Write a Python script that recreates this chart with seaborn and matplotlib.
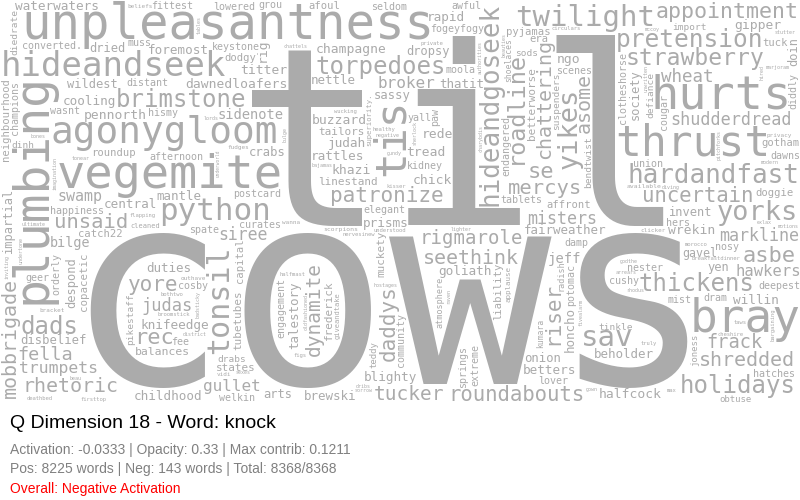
import numpy as np
import matplotlib
matplotlib.use("Agg")
import matplotlib.pyplot as plt
import seaborn as sns

# ---------------- data ----------------
words = [
    "cows", "til", "unpleasantness", "plumbing", "vegemite", "hurts", "bray", "thrust",
    "tis", "agonygloom", "hideandseek", "python", "tonsil", "twilight", "sav", "yorks",
    "yikes", "hideandgoseek", "hardandfast", "pretension", "torpedoes", "brimstone",
    "holidays", "dads", "thickens", "roadline", "strawberry", "se", "rec", "asbe",
    "appointment", "riser", "patronize", "daddys", "yore", "uncertain", "roundabouts",
    "unsaid", "mercys", "rhetoric", "seethink", "shredded", "asome", "chattering",
    "mobbrigade", "tucker", "dynamite", "rigmarole", "frack", "fella", "wheat", "judas",
    "shudderdread", "markline", "misters", "siree", "trumpets", "broker", "gullet",
    "hawkers", "swamp", "jeff", "sidenote", "bilge", "titter", "tread", "ngo", "buzzard",
    "rede", "pennorth", "chick", "gipper", "champagne", "halfcock", "dawnedloafers",
    "wrekin", "rig", "khazi", "knifeedge", "prisms", "waterwaters", "willin", "goliath",
    "judah", "rapid", "childhood", "rattles", "blighty", "central", "cooling", "betters",
    "foremost", "fairweather", "talestory", "brewski", "beholder", "nettle", "thatit",
    "mantle", "duties", "honcho", "disbelief", "crabs", "onion", "sassy", "dropsy",
    "invent", "dried", "yen", "arts", "wildest", "doin", "impartial", "society",
    "despond", "gavel", "balances", "tailors", "states", "linestand", "frederick",
    "betterworse", "muckety", "tubetubes", "copacetic", "neighbourhood", "catch22",
    "affront", "tuck", "pyjamas", "roundup", "doggie", "dodgy", "afoul", "era",
    "capital", "liability", "gotham", "union", "converted.", "postcard", "distant",
    "geer", "awful", "hatches", "welkin", "scenes", "fee", "clotheshorse", "deepest",
    "tablets", "paw", "grou", "dawns", "curates", "cougar", "happiness", "fogeyfogy",
    "kidney", "fittest", "extreme", "spate", "nester", "muss", "keystone", "seldom",
    "damp", "dram", "engagement", "endangered", "community", "moola", "lowered",
    "elegant", "mist", "wasnt", "hismy", "afternoon", "cosby", "yall", "cushy", "hers",
    "champions", "nosy", "orderly", "potomac", "springs", "diddly", "lover", "obtuse",
    "tinkle", "sods", "drabs", "dinh", "import", "defiance", "suspenders", "bendtwist",
    "diedrate", "pikestaff", "teddy", "joness", "superiority.", "atmosphere", "radish",
    "kumara", "giveandtake", "shoelaces", "applause", "cleaned", "available", "scorpions",
    "wanna", "vidi", "bracket", "beliefs", "outhave", "privacy", "fudges", "clicker",
    "firsttop", "circulars", "flapping", "wucking", "bargaining", "kisser", "truly",
    "figs", "private", "halfmast", "bothtwo", "taws", "deathbed", "breakfastdinner",
    "broomstick", "nervesinew", "healthy", "cheshire", "morocco", "understood", "max",
    "godthe", "negative", "lords", "bones", "beauties", "tables", "raven", "arrears",
    "marjoram", "tonear", "sexes", "fivealarm", "motions", "sorrow", "bulge",
    "badsticky", "beau", "exlax", "chattels", "charybdis", "diving", "pitchforks",
    "mccoy", "authorities", "gown", "gundy", "lighter", "bajamas", "hostages",
    "stutter", "sherlock", "ultimate", "rhodus", "imagination", "inviting",
    "oldfashioned", "undertone", "district", "dribs", "hired", "modern", "unwritten",
    "underworld",
]
weights = [
    270, 250, 49, 48, 47, 47, 46, 43,
    43, 42, 34, 31, 30, 29, 29, 27,
    27, 26, 26, 24.5, 24, 24,
    24, 24, 24, 23.5, 23, 22, 22, 22,
    21.6, 21, 21, 21, 21, 20.7, 20.6,
    20.5, 20.5, 20, 20, 20, 20, 20,
    20, 19.5, 19.5, 19, 18.6, 18.5, 17.5, 17,
    16.8, 16.6, 16.6, 16.5, 16.4, 16, 16,
    15.5, 15, 14, 13.8, 13.5, 13, 13, 13, 13,
    13, 13, 13, 13, 13, 13, 13,
    13, 13, 13, 12.8, 12.8, 12.8, 12.8, 12.7,
    12.7, 12.7, 12.6, 12.6, 12.6, 12.6, 12.6, 12.6,
    12.6, 12.5, 12.5, 12.5, 12.5, 12.5, 12.5,
    12.5, 12.5, 12.5, 12.3, 12.3, 12.3, 12.3, 12,
    12, 12, 12, 12, 12, 12, 12, 12,
    12, 11.6, 11.5, 11, 11, 11, 11,
    11, 11, 11, 10.8, 10.6, 10.5,
    10.5, 10.5, 10.5, 10.5, 10.5, 10.5, 10.5, 10.5,
    10.5, 10.5, 10.5, 10, 10, 10, 10,
    10, 10, 10, 10, 10, 10, 10, 10,
    10, 10, 10, 10, 10, 10, 10, 10, 10,
    10, 10, 10, 10, 10, 10, 10, 10,
    10, 10, 10, 10, 10, 10, 10,
    10, 10, 10, 10, 10, 10, 10, 10, 10,
    10, 10, 10, 10, 10, 10, 9, 9.5,
    9.5, 9.5, 9.5, 9.5, 9.5, 9.5, 9.5, 9.5,
    9.5, 9, 9, 9, 8.5, 8.5, 8,
    8, 8, 7.5, 7, 6.5, 6.5, 6,
    6, 6, 6, 6, 6, 6, 6, 5.5,
    5.5, 5.5, 5.5, 5.5, 5.5, 5.5, 5.5,
    5.5, 5.5, 5.5, 5.5, 5.5, 5.5, 5.5,
    5.5, 5.5, 5.5, 5.5, 5.5, 5.5, 5,
    5, 5, 5, 5, 5, 5, 5, 5,
    5, 5, 5, 5, 5, 5, 5,
    5, 5, 5, 5, 5, 5, 5,
    5, 5, 5, 5, 5, 5,
    5, 5, 5, 5, 5, 5,
    5, 5, 5, 5, 5, 5, 5,
    4.5,
]
vertical_words = [
    "plumbing", "tis", "tonsil", "yikes", "hideandgoseek", "roadline", "riser", "daddys",
    "asome", "chattering", "mobbrigade", "dynamite", "rigmarole", "rig", "talestory",
    "honcho", "doin", "impartial", "society", "despond", "frederick", "betterworse",
    "muckety", "tubetubes", "copacetic", "neighbourhood", "capital", "liability",
    "clotheshorse", "paw", "cougar", "extreme", "engagement", "orderly", "potomac",
    "springs", "diddly", "defiance", "suspenders", "bendtwist", "diedrate", "pikestaff",
    "teddy", "joness", "superiority.", "atmosphere", "radish", "kumara", "giveandtake",
    "shoelaces", "applause", "bargaining", "beauties", "tables", "raven", "fivealarm",
    "bulge", "badsticky", "charybdis", "pitchforks", "authorities", "sherlock",
    "imagination", "inviting", "oldfashioned", "undertone", "hired", "unwritten",
    "underworld",
]

title_text = "Q Dimension 18 - Word: knock"
activation = -0.0333
opacity = 0.33
max_contrib = 0.1211
pos_words = 8225
neg_words = 143
total_words = 8368
overall_label = "Negative Activation"

# ---------------- style ----------------
sns.set_theme(style="white")
plt.rcParams["font.family"] = ["DejaVu Sans Mono", "DejaVu Sans"]
WORD_COLOR = "#ababab"
FONT = "DejaVu Sans Mono"

W, H = 800, 500
CLOUD_H = 402
MARGIN = 1
SEED = 7

fig = plt.figure(figsize=(8, 5), dpi=100)
fig.patch.set_facecolor("white")
ax = fig.add_axes([0, 0, 1, 1])
ax.set_xlim(0, W)
ax.set_ylim(0, H)
ax.axis("off")
renderer = fig.canvas.get_renderer()

AX, AY = 400, 250
_cache = {}


def measure(word, px, vert):
    key = (word, round(px, 3), vert)
    if key in _cache:
        return _cache[key]
    t = ax.text(AX, AY, word, fontsize=px * 0.72, family=FONT,
                rotation=90 if vert else 0, ha="center", va="center", color="black")
    renderer.clear()
    t.draw(renderer)
    a = np.asarray(renderer.buffer_rgba())[..., 3]
    t.remove()
    ink = a > 30
    rows = np.flatnonzero(ink.any(1))
    cols = np.flatnonzero(ink.any(0))
    if len(rows) == 0:
        res = None
    else:
        r0, r1, c0, c1 = rows[0], rows[-1], cols[0], cols[-1]
        res = (ink[r0:r1 + 1, c0:c1 + 1].astype(np.uint8), r0, c0)
    _cache[key] = res
    return res


def integral(o):
    S = np.zeros((o.shape[0] + 1, o.shape[1] + 1), np.int32)
    S[1:, 1:] = np.cumsum(np.cumsum(o, 0, dtype=np.int32), 1, dtype=np.int32)
    return S


def free_map(S, hb, wb):
    hc, wc = S.shape[0] - 1, S.shape[1] - 1
    if hb > hc or wb > wc:
        return None
    return (S[hb:, wb:] - S[:-hb, wb:] - S[hb:, :-wb] + S[:-hb, :-wb]) == 0


order = sorted(range(len(words)), key=lambda k: -weights[k])
items = [(words[k], float(weights[k]), words[k] in vertical_words) for k in order]

occ = np.zeros((CLOUD_H, W), np.uint8)
rng = np.random.default_rng(SEED)
LOOK = 14
placed = []

for n, (word, px, vert) in enumerate(items):
    S = integral(occ)
    done = False
    while px >= 4 and not done:
        for v in (vert, not vert):
            res = measure(word, px, v)
            if res is None:
                continue
            m, r0, c0 = res
            h, w = m.shape
            fm = free_map(S, h + 2 * MARGIN, w + 2 * MARGIN)
            if fm is None or not fm.any():
                continue
            cand = np.flatnonzero(fm)
            fw = fm.shape[1]
            if n < LOOK and n + 1 < len(items):
                nw_, npx, nv = items[n + 1]
                nres = measure(nw_, npx, nv)
                tries = cand[rng.integers(len(cand), size=min(40, len(cand)))]
                pick = tries[0]
                if nres is not None:
                    nh, nwid = nres[0].shape
                    for c in tries:
                        i, j = divmod(int(c), fw)
                        occ2 = occ.copy()
                        occ2[i + MARGIN:i + MARGIN + h, j + MARGIN:j + MARGIN + w] |= m
                        f2 = free_map(integral(occ2), nh + 2 * MARGIN, nwid + 2 * MARGIN)
                        if f2 is not None and f2.any():
                            pick = c
                            break
            else:
                pick = cand[rng.integers(len(cand))]
            i, j = divmod(int(pick), fw)
            occ[i + MARGIN:i + MARGIN + h, j + MARGIN:j + MARGIN + w] |= m
            x_anchor = AX + (j + MARGIN - c0)
            y_anchor = AY - (i + MARGIN - r0)
            placed.append((word, px, v, x_anchor, y_anchor))
            done = True
            break
        if not done:
            px *= 0.9

for word, px, v, x, y in placed:
    ax.text(x, y, word, fontsize=px * 0.72, family=FONT, rotation=90 if v else 0,
            ha="center", va="center", color=WORD_COLOR)

# ---------------- captions ----------------
LBL = ["Liberation Sans", "DejaVu Sans"]
fig.text(10 / W, 1 - 428 / H, title_text, fontsize=14, family=LBL, color="black",
         ha="left", va="baseline")
fig.text(10 / W, 1 - 454 / H,
         f"Activation: {activation:.4f} | Opacity: {opacity:.2f} | Max contrib: {max_contrib:.4f}",
         fontsize=10, family=LBL, color="gray", ha="left", va="baseline")
fig.text(10 / W, 1 - 473.5 / H,
         f"Pos: {pos_words} words | Neg: {neg_words} words | Total: {total_words}/{total_words}",
         fontsize=10, family=LBL, color="gray", ha="left", va="baseline")
fig.text(10 / W, 1 - 493 / H, f"Overall: {overall_label}", fontsize=10, family=LBL,
         color="red", ha="left", va="baseline")

fig.savefig("out.png", dpi=100, facecolor="white")
